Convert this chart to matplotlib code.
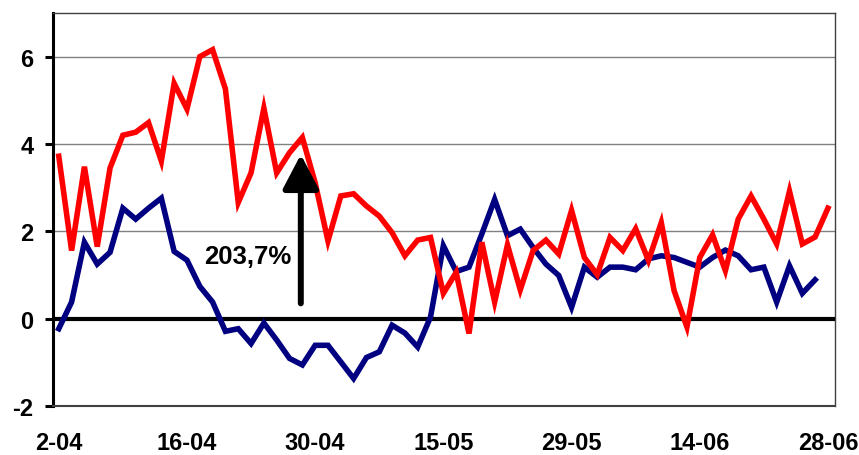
import matplotlib
matplotlib.use("Agg")
import matplotlib.pyplot as plt

plt.rcParams['font.family'] = ['Liberation Sans', 'DejaVu Sans']

x_labels = ["2-04", "16-04", "30-04", "15-05", "29-05", "14-06", "28-06"]
label_step = 10

red_values = [3.72, 1.56, 3.48, 1.65, 3.45, 4.20, 4.27, 4.49, 3.61, 5.39,
              4.80, 6.00, 6.16, 5.26, 2.66, 3.34, 4.82, 3.34, 3.80, 4.15,
              3.11, 1.78, 2.81, 2.86, 2.58, 2.35, 1.97, 1.44, 1.80, 1.86,
              0.58, 1.06, -0.34, 1.75, 0.38, 1.69, 0.66, 1.56, 1.80, 1.48,
              2.48, 1.40, 1.01, 1.86, 1.56, 2.06, 1.33, 2.20, 0.64, -0.19,
              1.40, 1.92, 1.10, 2.28, 2.81, 2.28, 1.71, 2.92, 1.71, 1.87,
              2.53]

navy_values = [-0.23, 0.38, 1.75, 1.25, 1.52, 2.53, 2.28, 2.53, 2.76, 1.54,
               1.34, 0.74, 0.38, -0.29, -0.23, -0.57, -0.10, -0.49, -0.91, -1.06,
               -0.61, -0.61, -0.99, -1.37, -0.89, -0.76, -0.15, -0.33, -0.65, 0.04,
               1.67, 1.08, 1.18, 1.94, 2.73, 1.90, 2.05, 1.63, 1.25, 0.99,
               0.26, 1.18, 0.95, 1.18, 1.18, 1.12, 1.37, 1.44, 1.40, 1.29,
               1.18, 1.40, 1.57, 1.44, 1.12, 1.18, 0.38, 1.21, 0.58, 0.89]

annotation_text = "203,7%"

fig = plt.figure(figsize=(8.59, 4.56), dpi=100)
ax = fig.add_axes([53/859, 49/456, (835-53)/859, (407-14)/456])

ax.set_xlim(-0.45, 60.55)
ax.set_ylim(-2, 7)

# gridlines
for yv in [2, 4, 6]:
    ax.axhline(yv, color='#808080', lw=1.0, zorder=1)

ax.plot(range(len(navy_values)), navy_values, color='#000080', lw=4.0,
        solid_joinstyle='miter', zorder=4)
ax.plot(range(len(red_values)), red_values, color='#FF0000', lw=4.0,
        solid_joinstyle='miter', zorder=5)

ax.axhline(0, color='black', lw=3.0, zorder=3)

# spines
for s in ['top', 'right']:
    ax.spines[s].set_color('#404040')
    ax.spines[s].set_linewidth(1.0)
ax.spines['bottom'].set_color('#404040')
ax.spines['bottom'].set_linewidth(1.5)
ax.spines['left'].set_color('black')
ax.spines['left'].set_linewidth(2.2)

ax.set_yticks([-2, 0, 2, 4, 6])
ax.set_yticklabels(["-2", "0", "2", "4", "6"], fontsize=17, fontweight='bold')
ax.tick_params(axis='y', length=6, width=2.2, pad=8, color='black')

xt = [i * label_step for i in range(len(x_labels))]
ax.set_xticks(xt)
ax.set_xticklabels(x_labels, fontsize=17, fontweight='bold')
ax.tick_params(axis='x', length=0, pad=18)

# annotation arrow
ax.annotate('', xy=(18.88, 3.76), xytext=(18.88, 0.35),
            arrowprops=dict(arrowstyle='-|>,head_length=1.05,head_width=0.55',
                            mutation_scale=20, lw=4.3, color='black',
                            shrinkA=0, shrinkB=0),
            zorder=6)
ax.text(14.75, 1.44, annotation_text, fontsize=18.5, fontweight='bold',
        ha='center', va='center', zorder=6)

fig.savefig("out.png", dpi=100)
